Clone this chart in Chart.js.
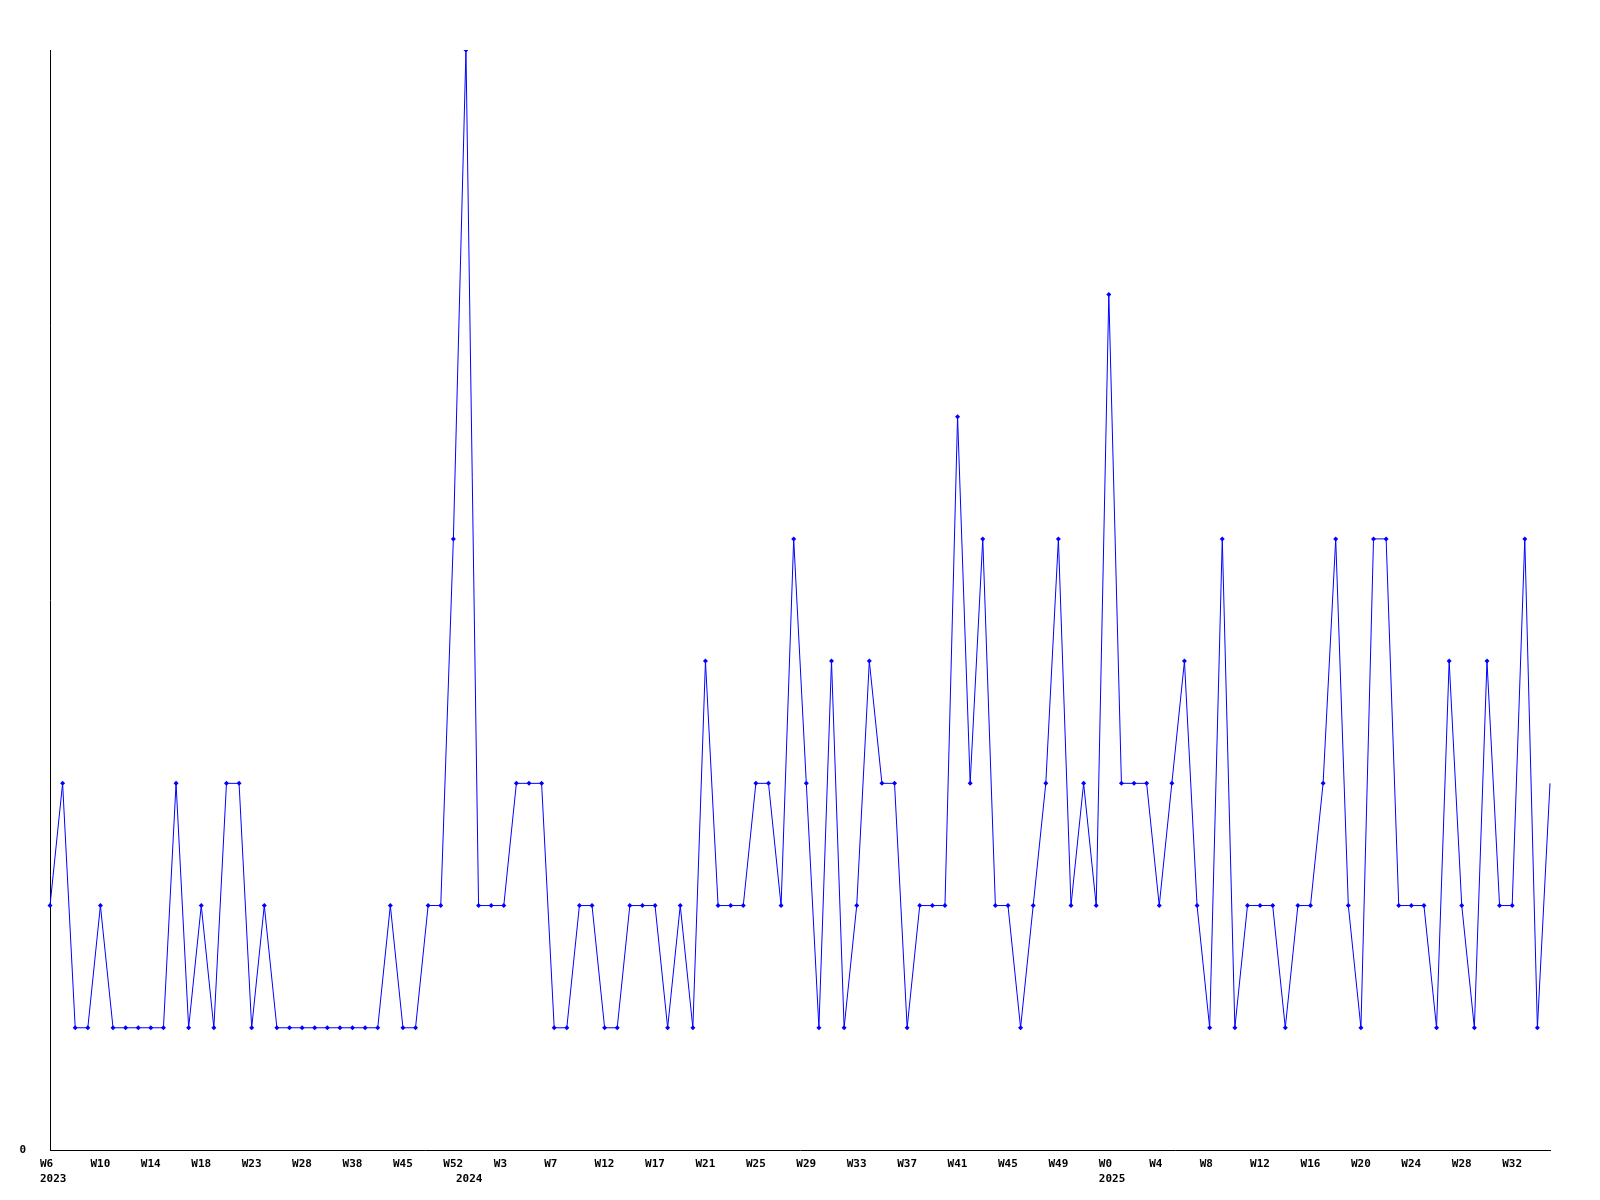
<!DOCTYPE html>
<html lang="en">
<head>
    <title>Weekly count</title>
    <script src="https://cdn.jsdelivr.net/npm/chart.js"></script>
    <style>
        body { margin: 0; background: #fff; }
    </style>
</head>
<body>
<canvas id="weeklyChart" width="1600" height="1200"></canvas>

<script>
    // one value per week that had data (weeks without data are not in the series)
    const weekValues = [
        2, 3, 1, 1, 2, 1, 1, 1, 1, 1,
        3, 1, 2, 1, 3, 3, 1, 2, 1, 1,
        1, 1, 1, 1, 1, 1, 1, 2, 1, 1,
        2, 2, 5, 9, 2, 2, 2, 3, 3, 3,
        1, 1, 2, 2, 1, 1, 2, 2, 2, 1,
        2, 1, 4, 2, 2, 2, 3, 3, 2, 5,
        3, 1, 4, 1, 2, 4, 3, 3, 1, 2,
        2, 2, 6, 3, 5, 2, 2, 1, 2, 3,
        5, 2, 3, 2, 7, 3, 3, 3, 2, 3,
        4, 2, 1, 5, 1, 2, 2, 2, 1, 2,
        2, 3, 5, 2, 1, 5, 5, 2, 2, 2,
        1, 4, 2, 1, 4, 2, 2, 5, 1, 3
    ];

    // label shown on every 4th point
    const weekTicks = ['W6', 'W10', 'W14', 'W18', 'W23', 'W28', 'W38', 'W45', 'W52', 'W3',
        'W7', 'W12', 'W17', 'W21', 'W25', 'W29', 'W33', 'W37', 'W41', 'W45',
        'W49', 'W0', 'W4', 'W8', 'W12', 'W16', 'W20', 'W24', 'W28', 'W32'];
    const yearTicks = ['2023', '2024', '2025'];
    const yearStarts = [0, 33, 84];

    const labels = weekValues.map((v, i) => {
        const week = i % 4 === 0 ? weekTicks[i / 4] : '';
        const y = yearStarts.indexOf(i);
        return y >= 0 ? [week, yearTicks[y]] : week;
    });

    const tickFont = {family: "'DejaVu Sans Mono', monospace", size: 11, weight: 'bold', lineHeight: '15px'};

    const ctx = document.getElementById('weeklyChart').getContext('2d');
    new Chart(ctx, {
        type: 'line',
        data: {
            labels: labels,
            datasets: [{
                data: weekValues,
                borderColor: '#0000ff',
                backgroundColor: '#0000ff',
                borderWidth: 1,
                tension: 0,
                pointStyle: 'rectRot',
                pointRadius: c => c.dataIndex === weekValues.length - 1 ? 0 : 2.5,
                pointBorderWidth: 0
            }]
        },
        options: {
            responsive: false,
            animation: false,
            layout: {padding: {top: 50, right: 50, left: 0, bottom: 0}},
            plugins: {
                legend: {display: false},
                tooltip: {enabled: false}
            },
            scales: {
                x: {
                    offset: false,
                    grid: {display: false},
                    border: {display: true, color: '#000', width: 1},
                    ticks: {
                        autoSkip: false,
                        maxRotation: 0,
                        align: 'start',
                        labelOffset: -10,
                        padding: -1,
                        color: '#000',
                        font: tickFont
                    },
                    afterFit: s => { s.height = 50; }
                },
                y: {
                    min: 0,
                    max: 9,
                    grid: {display: false},
                    border: {display: true, color: '#000', width: 1},
                    ticks: {padding: 16, color: '#000', font: tickFont},
                    afterBuildTicks: s => { s.ticks = [{value: 0}]; },
                    afterFit: s => { s.width = 50; }
                }
            }
        }
    });
</script>
</body>
</html>
